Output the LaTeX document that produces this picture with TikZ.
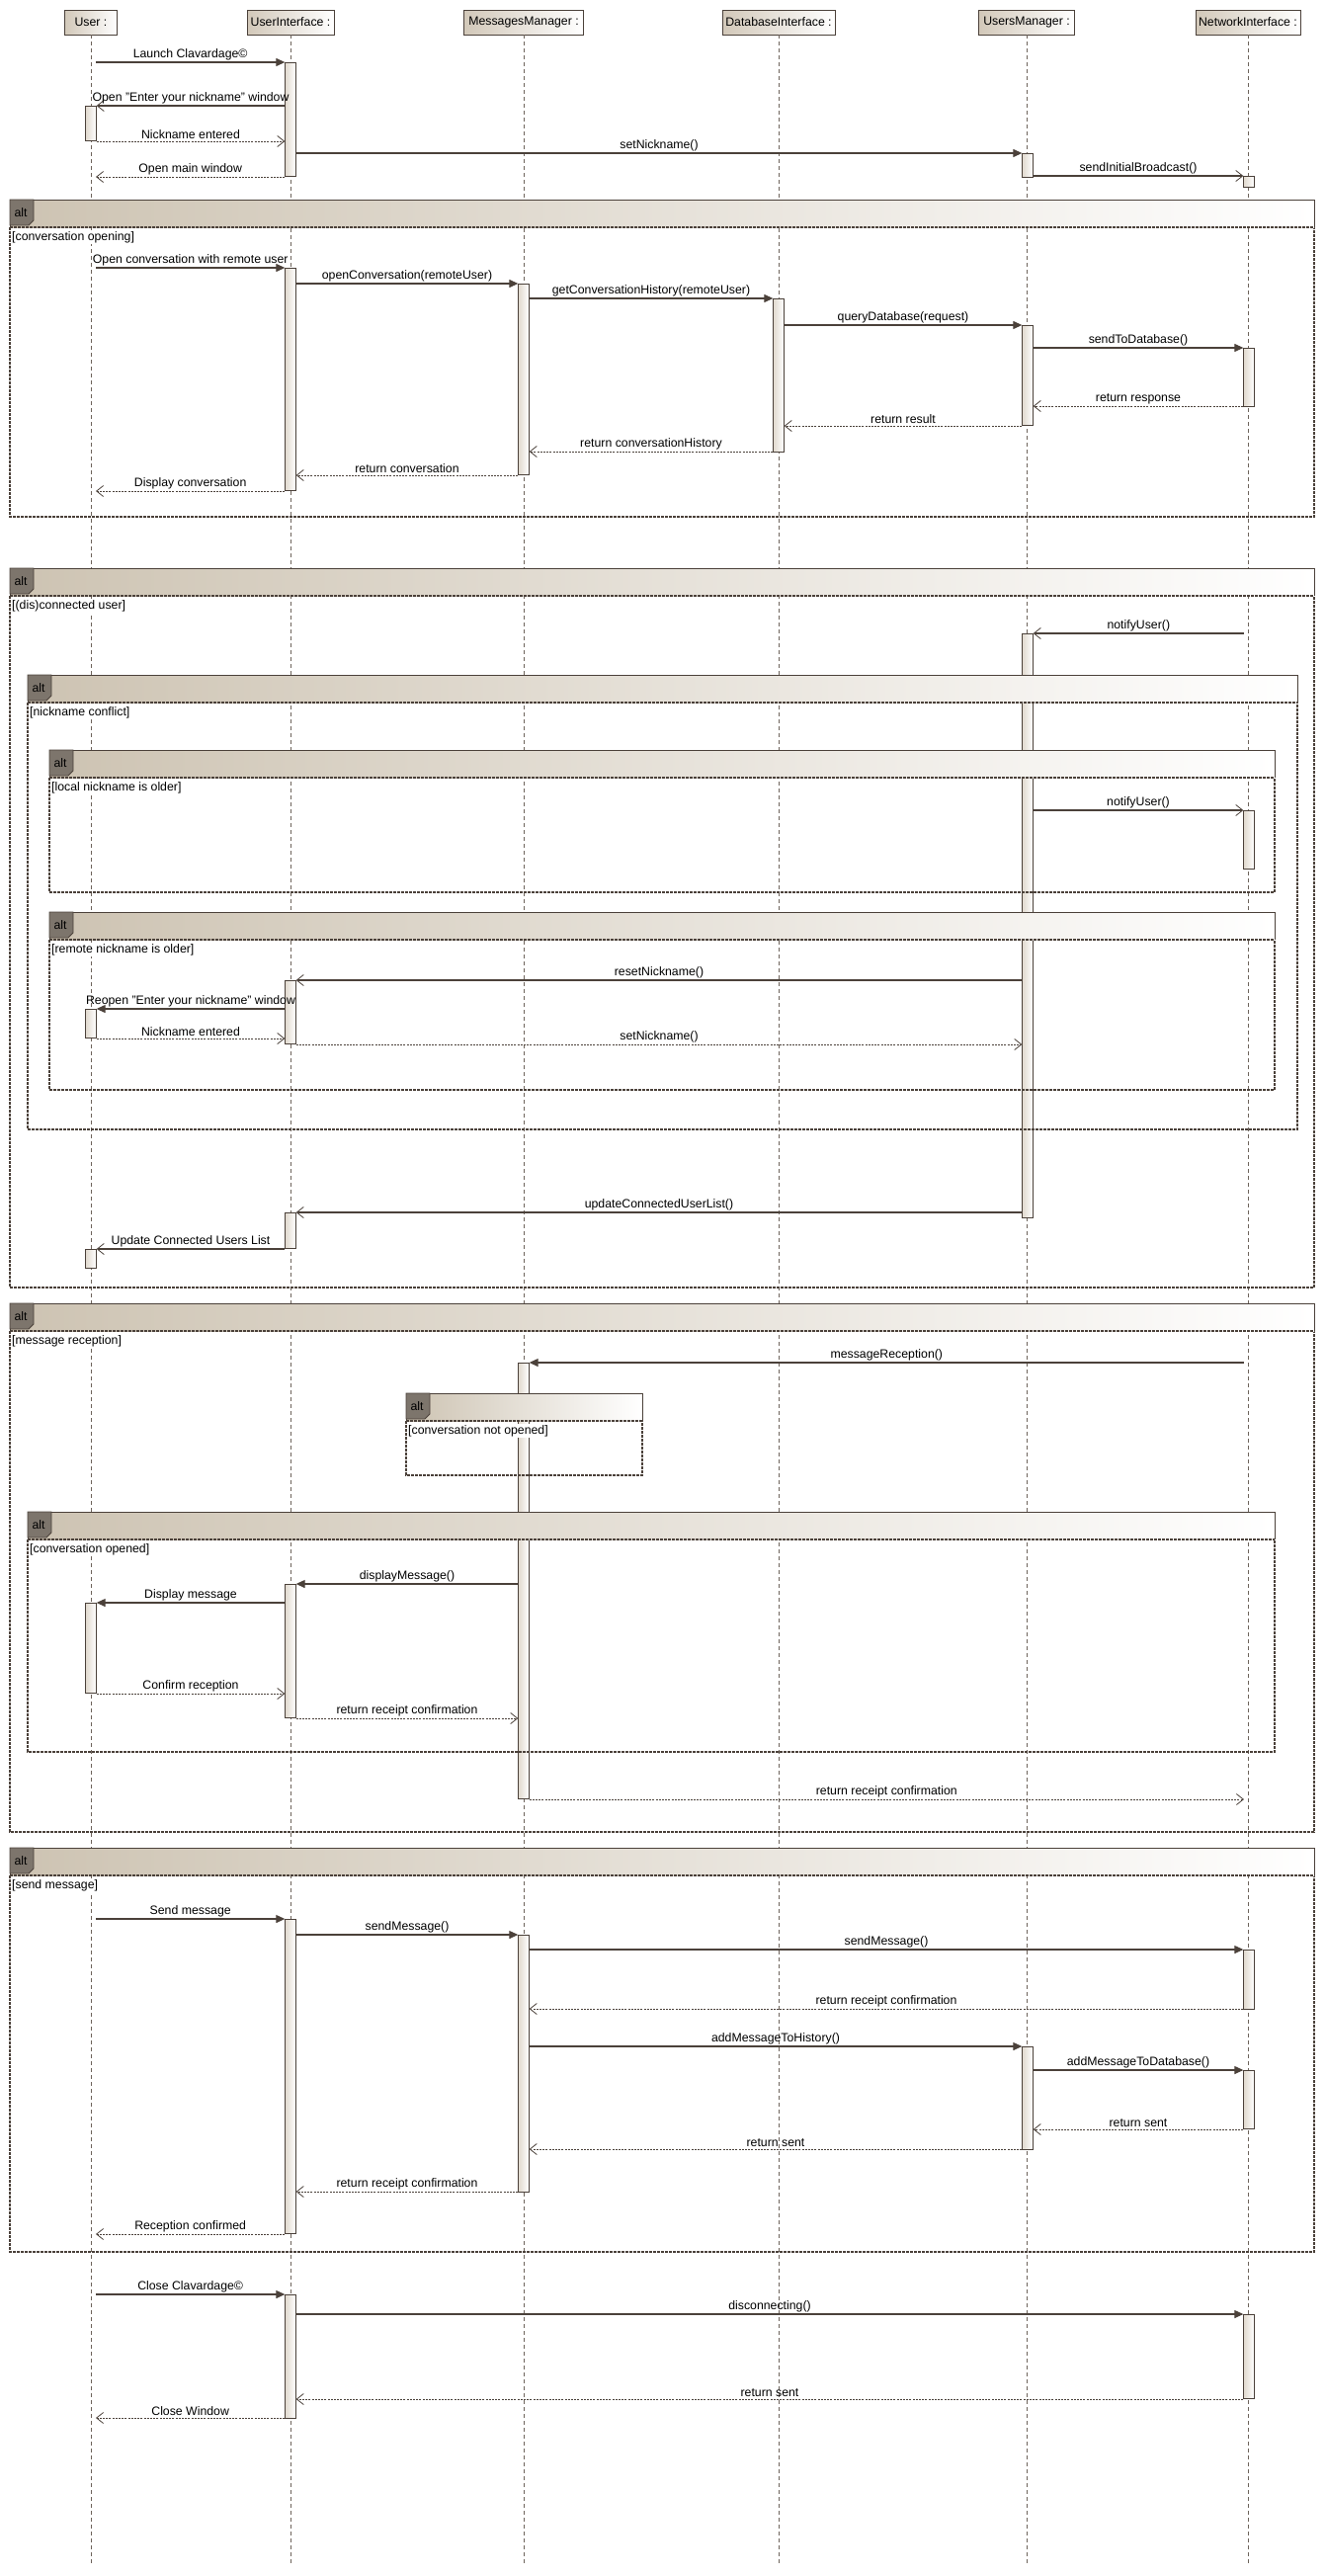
\documentclass[tikz,border=0pt]{standalone}
\usepackage{fontspec}
\setmainfont{Liberation Sans}
\usepackage{tikz}
\usetikzlibrary{arrows.meta, positioning}

\definecolor{linec}{RGB}{75,65,58}
\definecolor{lifec}{RGB}{110,100,92}
\definecolor{headc}{RGB}{210,200,185}
\definecolor{hdrc}{RGB}{205,195,178}
\definecolor{actc}{RGB}{225,218,207}
\definecolor{tagc}{RGB}{125,117,108}
\newcommand\lblfont{\fontsize{12.3}{14}\selectfont}

\begin{document}
\begin{tikzpicture}[x=1pt, y=-1pt,
    head/.style={draw=linec, line width=0.9pt, left color=headc, right color=white, minimum height=25pt, inner sep=2pt, font=\lblfont},
    lifeline/.style={draw=lifec, line width=0.8pt, dash pattern=on 4pt off 3pt},
    act/.style={draw=linec, line width=0.8pt, left color=actc, right color=white, minimum width=10.5pt, inner sep=0pt},
    call/.style={draw=linec, line width=1.1pt, -{Triangle[length=9pt, width=8pt]}},
    async/.style={draw=linec, line width=1.1pt, -{Straight Barb[length=7pt, width=11pt, line width=0.8pt]}},
    reply/.style={draw=linec, line width=0.9pt, dash pattern=on 2pt off 1.2pt, -{Straight Barb[length=7pt, width=11pt, line width=0.8pt]}},
    lbl/.style={midway, above, inner sep=1.5pt, font=\lblfont},
    guard/.style={anchor=west, fill=white, inner sep=1pt, font=\lblfont},
    framebody/.style={draw=linec, line width=1.1pt, dash pattern=on 3pt off 1pt},
    framehdr/.style={left color=hdrc, right color=white},
    tag/.style={draw=linec, line width=0.8pt, fill=tagc}
]
\useasboundingbox (0,0) rectangle (1341,2607);

% Lifelines
\foreach \n/\x/\w/\txt in {user/92/53/User :, ui/294/88/UserInterface :, mm/530/121/MessagesManager :,
    db/788/114/DatabaseInterface :, um/1039/97/UsersManager :, ni/1263/106/NetworkInterface :} {
    \node[head, minimum width=\w pt] (\n) at (\x,22.5) {\txt};
    \draw[lifeline] (\n.south) -- (\n.south |- 0,2597);
}
\coordinate (uR) at (97,0);
\coordinate (niL) at (1259,0);

% Activations
\foreach \n/\x/\ya/\yb in {ui1/294/63/178, u1/92/107/142, um1/1040/155/179, ni1/1264/178/189,
    ui2/294/271/496, mm1/530/287/480, db1/788/302/457, um2/1040/329/430, ni2/1264/352/411,
    um3/1040/641/1232, ni3/1264/820/879, ui3/294/992/1056, u2/92/1021/1050, ui4/294/1227/1263, u3/92/1264/1283,
    mm2/530/1379/1820, ui5/294/1603/1738, u4/92/1622/1713,
    ui6/294/1942/2260, mm3/530/1958/2218, ni4/1264/1973/2033, um4/1040/2071/2175, ni5/1264/2095/2154,
    ui7/294/2322/2447, ni6/1264/2342/2427} {
    \node[act, minimum height={(\yb-\ya)*1pt}] (\n) at (\x,{(\ya+\yb)/2}) {};
}

% Combined fragments
\foreach \xl/\xr/\yt/\yb/\g [count=\i] in {10/1330/202/523/{conversation opening},
    10/1330/575/1303/{(dis)connected user}, 28/1313/683/1143/{nickname conflict},
    50/1290/759/903/{local nickname is older}, 50/1290/923/1103/{remote nickname is older},
    10/1330/1319/1854/{message reception}, 411/650/1410/1493/{conversation not opened},
    28/1290/1530/1773/{conversation opened}, 10/1330/1870/2279/{send message}} {
    \draw[framebody] (\xl,{\yt+28}) -- (\xl,\yb) -- (\xr,\yb) -- (\xr,{\yt+28});
    \path[framehdr] (\xl,\yt) rectangle (\xr,{\yt+28});
    \draw[framebody] (\xl,{\yt+28}) -- (\xr,{\yt+28});
    \draw[linec, line width=0.9pt] (\xl,{\yt+28}) -- (\xl,\yt) -- (\xr,\yt) -- (\xr,{\yt+28});
    \draw[tag] (\xl,\yt) -- ({\xl+24},\yt) -- ({\xl+24},{\yt+21}) -- ({\xl+19},{\yt+26}) -- (\xl,{\yt+26}) -- cycle;
    \node[font=\lblfont, inner sep=0pt] (alt\i) at ({\xl+11},{\yt+13}) {alt};
    \node[guard] (guard\i) at ({\xl+1},{\yt+38}) {[\g]};
}

% Startup
\draw[call] (uR |- 0,63) -- node[lbl] (m1) {Launch Clavardage©} (ui1.west |- 0,63);
\draw[async] (ui1.west |- 0,107) -- node[lbl] (m2) {Open "Enter your nickname" window} (u1.east |- 0,107);
\draw[reply] (u1.east |- 0,143) -- node[lbl] (m3) {Nickname entered} (ui1.west |- 0,143);
\draw[call] (ui1.east |- 0,155) -- node[lbl] (m4) {setNickname()} (um1.west |- 0,155);
\draw[async] (um1.east |- 0,178) -- node[lbl] (m5) {sendInitialBroadcast()} (ni1.west |- 0,178);
\draw[reply] (ui1.west |- 0,179) -- node[lbl] (m6) {Open main window} (uR |- 0,179);

% Conversation opening
\draw[call] (uR |- 0,271) -- node[lbl] (m7) {Open conversation with remote user} (ui2.west |- 0,271);
\draw[call] (ui2.east |- 0,287) -- node[lbl] (m8) {openConversation(remoteUser)} (mm1.west |- 0,287);
\draw[call] (mm1.east |- 0,302) -- node[lbl] (m9) {getConversationHistory(remoteUser)} (db1.west |- 0,302);
\draw[call] (db1.east |- 0,329) -- node[lbl] (m10) {queryDatabase(request)} (um2.west |- 0,329);
\draw[call] (um2.east |- 0,352) -- node[lbl] (m11) {sendToDatabase()} (ni2.west |- 0,352);
\draw[reply] (ni2.west |- 0,411) -- node[lbl] (m12) {return response} (um2.east |- 0,411);
\draw[reply] (um2.west |- 0,431) -- node[lbl] (m13) {return result} (db1.east |- 0,431);
\draw[reply] (db1.west |- 0,457) -- node[lbl] (m14) {return conversationHistory} (mm1.east |- 0,457);
\draw[reply] (mm1.west |- 0,481) -- node[lbl] (m15) {return conversation} (ui2.east |- 0,481);
\draw[reply] (ui2.west |- 0,497) -- node[lbl] (m16) {Display conversation} (uR |- 0,497);

% (Dis)connected user
\draw[async] (niL |- 0,641) -- node[lbl] (m17) {notifyUser()} (um3.east |- 0,641);
\draw[async] (um3.east |- 0,820) -- node[lbl] (m18) {notifyUser()} (ni3.west |- 0,820);
\draw[async] (um3.west |- 0,992) -- node[lbl] (m19) {resetNickname()} (ui3.east |- 0,992);
\draw[call] (ui3.west |- 0,1021) -- node[lbl] (m20) {Reopen "Enter your nickname" window} (u2.east |- 0,1021);
\draw[reply] (u2.east |- 0,1051) -- node[lbl] (m21) {Nickname entered} (ui3.west |- 0,1051);
\draw[reply] (ui3.east |- 0,1057) -- node[lbl] (m22) {setNickname()} (um3.west |- 0,1057);
\draw[async] (um3.west |- 0,1227) -- node[lbl] (m23) {updateConnectedUserList()} (ui4.east |- 0,1227);
\draw[async] (ui4.west |- 0,1264) -- node[lbl] (m24) {Update Connected Users List} (u3.east |- 0,1264);

% Message reception
\draw[call] (niL |- 0,1379) -- node[lbl] (m25) {messageReception()} (mm2.east |- 0,1379);
\draw[call] (mm2.west |- 0,1603) -- node[lbl] (m26) {displayMessage()} (ui5.east |- 0,1603);
\draw[call] (ui5.west |- 0,1622) -- node[lbl] (m27) {Display message} (u4.east |- 0,1622);
\draw[reply] (u4.east |- 0,1714) -- node[lbl] (m28) {Confirm reception} (ui5.west |- 0,1714);
\draw[reply] (ui5.east |- 0,1739) -- node[lbl] (m29) {return receipt confirmation} (mm2.west |- 0,1739);
\draw[reply] (mm2.east |- 0,1821) -- node[lbl] (m30) {return receipt confirmation} (niL |- 0,1821);

% Send message
\draw[call] (uR |- 0,1942) -- node[lbl] (m31) {Send message} (ui6.west |- 0,1942);
\draw[call] (ui6.east |- 0,1958) -- node[lbl] (m32) {sendMessage()} (mm3.west |- 0,1958);
\draw[call] (mm3.east |- 0,1973) -- node[lbl] (m33) {sendMessage()} (ni4.west |- 0,1973);
\draw[reply] (ni4.west |- 0,2033) -- node[lbl] (m34) {return receipt confirmation} (mm3.east |- 0,2033);
\draw[call] (mm3.east |- 0,2071) -- node[lbl] (m35) {addMessageToHistory()} (um4.west |- 0,2071);
\draw[call] (um4.east |- 0,2095) -- node[lbl] (m36) {addMessageToDatabase()} (ni5.west |- 0,2095);
\draw[reply] (ni5.west |- 0,2155) -- node[lbl] (m37) {return sent} (um4.east |- 0,2155);
\draw[reply] (um4.west |- 0,2175) -- node[lbl] (m38) {return sent} (mm3.east |- 0,2175);
\draw[reply] (mm3.west |- 0,2218) -- node[lbl] (m39) {return receipt confirmation} (ui6.east |- 0,2218);
\draw[reply] (ui6.west |- 0,2261) -- node[lbl] (m40) {Reception confirmed} (uR |- 0,2261);

% Closing
\draw[call] (uR |- 0,2322) -- node[lbl] (m41) {Close Clavardage©} (ui7.west |- 0,2322);
\draw[call] (ui7.east |- 0,2342) -- node[lbl] (m42) {disconnecting()} (ni6.west |- 0,2342);
\draw[reply] (ni6.west |- 0,2428) -- node[lbl] (m43) {return sent} (ui7.east |- 0,2428);
\draw[reply] (ui7.west |- 0,2447) -- node[lbl] (m44) {Close Window} (uR |- 0,2447);

\end{tikzpicture}
\end{document}
